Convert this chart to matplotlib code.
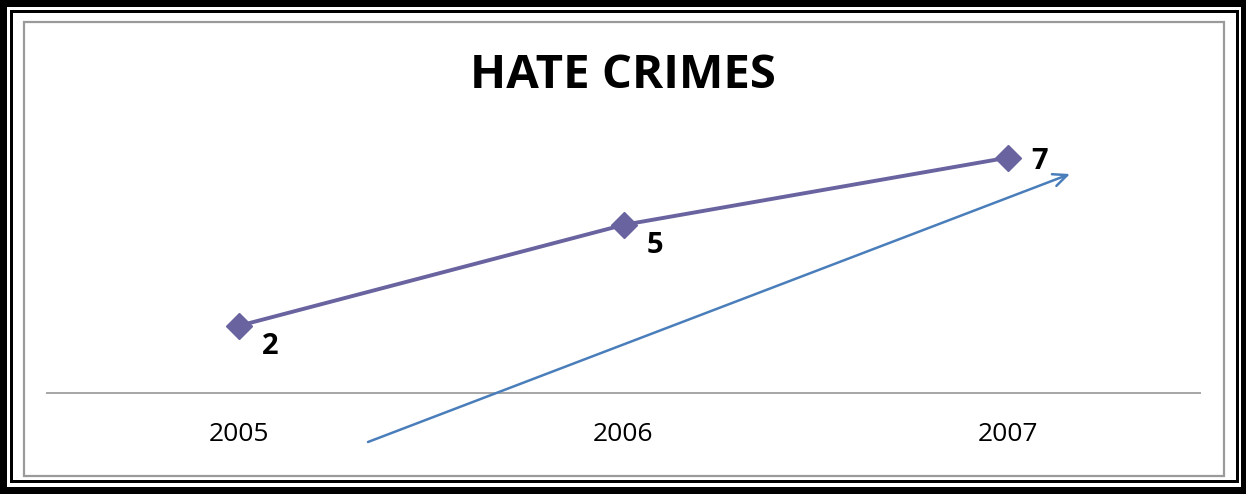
import matplotlib
matplotlib.use("Agg")
import matplotlib.pyplot as plt
from matplotlib.patches import Rectangle

years = ["2005", "2006", "2007"]
hate_crimes = [2, 5, 7]
title = "HATE CRIMES"

W, H = 1246, 494
fig = plt.figure(figsize=(W / 100, H / 100), dpi=100)
fig.patch.set_facecolor("white")

# Background frame drawn in pixel units
bg = fig.add_axes([0, 0, 1, 1], zorder=0)
bg.set_xlim(0, W)
bg.set_ylim(H, 0)
bg.axis("off")


def rect(x0, y0, x1, y1, color):
    bg.add_patch(Rectangle((x0, y0), x1 - x0, y1 - y0, facecolor=color,
                           edgecolor="none"))


rect(0, 0, W, H, "black")
rect(7, 7, W - 5, H - 7, "white")
rect(10, 10, W - 7, H - 11, "black")
rect(13, 13, W - 10, H - 14, "white")
bg.add_patch(Rectangle((23.5, 22.5), 1200, 453, facecolor="white",
                       edgecolor="#9a9a9a", linewidth=1.6))

# Plot area
x0, x1 = 47, 1200
y_top, y_base = 124, 393
ax = fig.add_axes([x0 / W, (H - y_base) / H, (x1 - x0) / W, (y_base - y_top) / H],
                  zorder=2)
ax.patch.set_alpha(0)
xs = list(range(len(years)))
ax.plot(xs, hate_crimes, color="#6964a0", linewidth=2.8, marker="D",
        markersize=13.5, markerfacecolor="#6964a0", markeredgecolor="#6964a0",
        clip_on=False, zorder=3)
ax.set_xlim(-0.5, len(years) - 0.5)
ax.set_ylim(0, 8)
for s in ["top", "right", "left"]:
    ax.spines[s].set_visible(False)
ax.spines["bottom"].set_color("#a6a6a6")
ax.spines["bottom"].set_linewidth(1.4)
ax.set_yticks([])
ax.set_xticks(xs)
ax.set_xticklabels(years, fontsize=19, family="Open Sans", color="black")
ax.tick_params(axis="x", length=0, pad=21)

offsets = [(31, -21), (31, -21), (32, -4)]
for x, v, (dx, dy) in zip(xs, hate_crimes, offsets):
    ax.annotate(str(v), (x, v), xytext=(dx * 0.72, dy * 0.72),
                textcoords="offset points", ha="center", va="center",
                fontsize=21, fontweight="bold", family="Open Sans", zorder=4)

fig.text(0.5, (H - 76) / H, title, ha="center", va="center", fontsize=34,
         fontweight="bold", family="Open Sans")

# Trend arrow on top layer
fg = fig.add_axes([0, 0, 1, 1], zorder=5)
fg.set_xlim(0, W)
fg.set_ylim(H, 0)
fg.axis("off")
fg.patch.set_alpha(0)
fg.annotate("", xy=(1070, 174), xytext=(368, 442),
            arrowprops=dict(arrowstyle="->,head_length=1.0,head_width=0.45",
                            color="#4a7ebb", linewidth=1.8,
                            shrinkA=0, shrinkB=0))

fig.savefig("out.png", dpi=100)
